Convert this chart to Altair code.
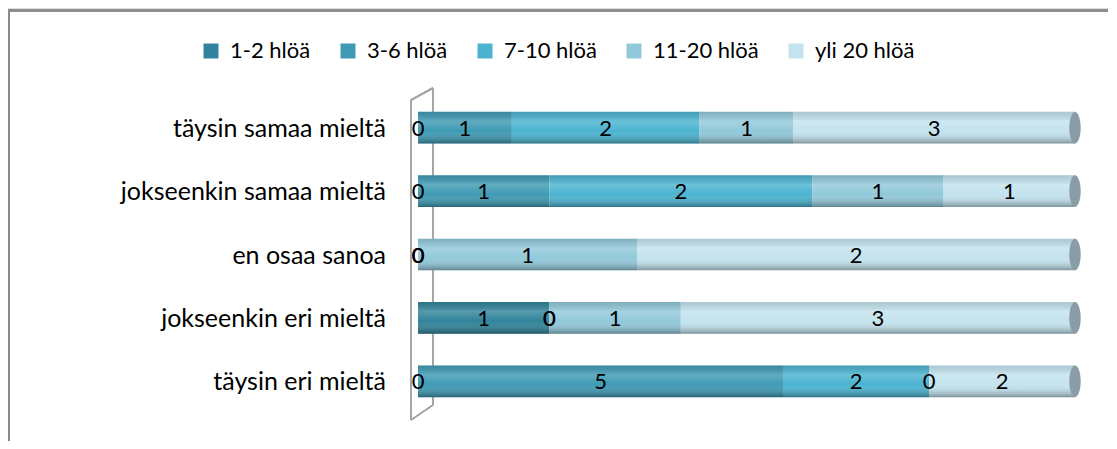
import altair as alt
import pandas as pd

categories = ["täysin samaa mieltä", "jokseenkin samaa mieltä", "en osaa sanoa",
              "jokseenkin eri mieltä", "täysin eri mieltä"]
series = ["1-2 hlöä", "3-6 hlöä", "7-10 hlöä", "11-20 hlöä", "yli 20 hlöä"]
v_1_2 = [0, 0, 0, 1, 0]
v_3_6 = [1, 1, 0, 0, 5]
v_7_10 = [2, 2, 0, 0, 2]
v_11_20 = [1, 1, 1, 1, 0]
v_yli20 = [3, 1, 2, 3, 2]
colors = ["#31849B", "#3F9AB4", "#4BB3D0", "#92C9DA", "#C3E3EE"]

rows = []
for si, (s, vals) in enumerate(zip(series, [v_1_2, v_3_6, v_7_10, v_11_20, v_yli20])):
    for c, v in zip(categories, vals):
        rows.append({"cat": c, "series": s, "order": si, "value": v})
df = pd.DataFrame(rows)
cat_df = pd.DataFrame({"cat": categories})

FONT = "Lato"

yscale = alt.Scale(domain=categories, range=[88, 405], paddingInner=0.5, paddingOuter=0.25)
xscale = alt.Scale(domain=[0, 1], range=[410, 1067])

base = alt.Chart(df).transform_stack(
    stack="value", groupby=["cat"], as_=["x0", "x1"], offset="normalize",
    sort=[alt.SortField("order", order="ascending")]
).transform_calculate(mid="(datum.x0 + datum.x1) / 2")

bars = base.mark_bar(strokeWidth=0).encode(
    x=alt.X("x0:Q", scale=xscale, axis=None),
    x2="x1:Q",
    y=alt.Y("cat:N", scale=yscale, axis=None),
    color=alt.Color("series:N", scale=alt.Scale(domain=series, range=colors),
                    legend=alt.Legend(orient="none", legendX=192, legendY=32, direction="horizontal",
                                      title=None, symbolType="square", symbolSize=225,
                                      symbolStrokeWidth=0, labelFontSize=22, labelFont=FONT,
                                      labelColor="#000000", columnPadding=26, labelOffset=8)),
)

shade = base.mark_bar(
    strokeWidth=0,
    color=alt.Gradient(gradient="linear", x1=0, x2=0, y1=0, y2=1,
                       stops=[alt.GradientStop(color="rgba(0,0,0,0.12)", offset=0),
                              alt.GradientStop(color="rgba(255,255,255,0.18)", offset=0.3),
                              alt.GradientStop(color="rgba(255,255,255,0.0)", offset=0.6),
                              alt.GradientStop(color="rgba(0,0,0,0.35)", offset=1)]),
).encode(x=alt.X("x0:Q", scale=xscale), x2="x1:Q", y=alt.Y("cat:N", scale=yscale))

caps = base.transform_aggregate(end="max(x1)", groupby=["cat"]).mark_point(
    shape="M0,-1 A0.36,1 0 1,1 0,1 A0.36,1 0 1,1 0,-1 Z",
    filled=True, size=1000, color="#8A9DA6", opacity=1, strokeWidth=0,
).encode(x=alt.X("end:Q", scale=xscale), y=alt.Y("cat:N", scale=yscale))

values_txt = base.mark_text(fontSize=22, font=FONT, color="#000000", baseline="middle", dy=1).encode(
    x=alt.X("mid:Q", scale=xscale), y=alt.Y("cat:N", scale=yscale), text="value:Q")

cat_txt = alt.Chart(cat_df).mark_text(fontSize=25, font=FONT, color="#000000", align="right",
                                      baseline="middle", dy=1).encode(
    x=alt.value(378), y=alt.Y("cat:N", scale=yscale), text="cat:N")

gray = "#A6A6A6"
def rule(x, x2, y, y2, w=1.5, c=gray):
    return alt.Chart(cat_df).mark_rule(color=c, strokeWidth=w).encode(
        x=alt.value(x), x2=alt.value(x2), y=alt.value(y), y2=alt.value(y2))

wall = (rule(425, 425, 80, 397) + rule(403, 403, 92, 412) +
        rule(403, 425, 92, 80) + rule(403, 425, 412, 397))
border = rule(0, 1110, 2.5, 2.5, 2, "#8C8C8C") + rule(1, 1, 2, 445, 2, "#8C8C8C")

chart = alt.layer(border, wall, bars, shade, caps, values_txt, cat_txt).properties(
    width=1100, height=433, padding=0, autosize=alt.AutoSizeParams(type="none"),
).configure_view(stroke=None).configure(background="white")

chart.save("out.html", embed_options={"renderer": "svg", "actions": False})
